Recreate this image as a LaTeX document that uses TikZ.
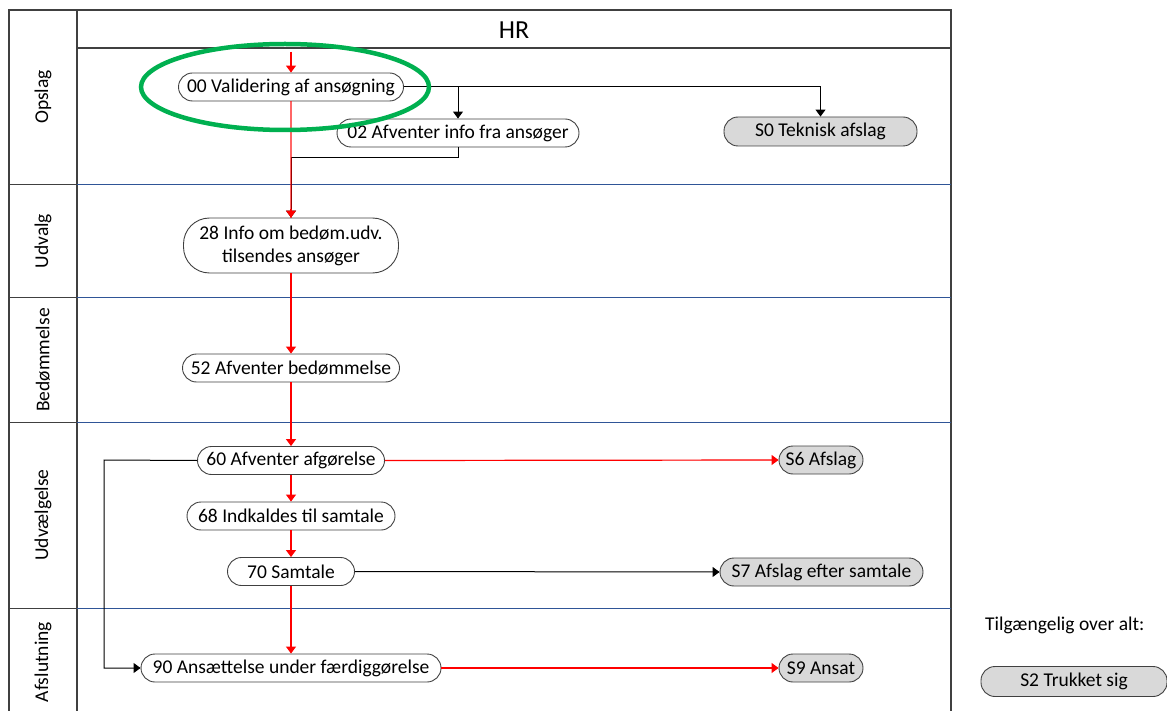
\documentclass[tikz,border=0pt]{standalone}
\usepackage{fontspec}
\setmainfont{Carlito}
\usetikzlibrary{arrows.meta}
\definecolor{frame}{HTML}{404040}
\definecolor{lanesep}{HTML}{2F5597}
\definecolor{statefill}{HTML}{D9D9D9}
\definecolor{hl}{HTML}{00B050}
\definecolor{flowred}{HTML}{FF0000}
\tikzset{
  x=1pt, y=-1pt,
  framel/.style={draw=frame, line width=1.5pt},
  sepl/.style={draw=lanesep, line width=1pt},
  lanelabel/.style={rotate=90, font=\fontsize{19.5}{23}\selectfont, inner sep=0pt},
  stepbox/.style={draw=frame, line width=0.9pt, fill=white, rounded corners=14pt,
    minimum height=28pt, inner sep=0pt, align=center, font=\fontsize{19.5}{23}\selectfont},
  statebox/.style={stepbox, fill=statefill},
  tip/.style={-{Triangle[width=10pt,length=7pt]}},
  redflow/.style={tip, draw=flowred, fill=flowred, line width=1.2pt},
  blkflow/.style={tip, draw=black, line width=1pt},
}
\begin{document}
\begin{tikzpicture}
\useasboundingbox (0,0) rectangle (1167,711);
% frame
\draw[framel] (9,711) -- (9,10) -- (951,10) -- (951,711);
\draw[framel] (77,10) -- (77,711);
\draw[framel] (77,48) -- (951,48);
\node[font=\fontsize{26}{30}\selectfont] (hr) at (514,30) {HR};
% lane separators
\foreach \yy in {185,298,422,608} {
  \draw[framel, line width=1pt] (9,\yy) -- (77,\yy);
  \draw[sepl] (77,\yy) -- (951,\yy);
}
\node[lanelabel] (l1) at (43,97) {Opslag};
\node[lanelabel] (l2) at (43,241) {Udvalg};
\node[lanelabel] (l3) at (43,360) {Bedømmelse};
\node[lanelabel] (l4) at (43,515) {Udvælgelse};
\node[lanelabel] (l5) at (43,662) {Afslutning};
% nodes
\node[stepbox, minimum width=225pt] (v00) at (291,87) {00 Validering af ansøgning};
\node[stepbox, minimum width=242pt] (a02) at (458,133) {02 Afventer info fra ansøger};
\node[statebox, minimum width=193pt, minimum height=29pt] (s0) at (820.5,131.5) {S0 Teknisk afslag};
\node[stepbox, minimum width=215pt, minimum height=55pt, rounded corners=26pt] (i28) at (291,245.5) {28 Info om bedøm.udv.\\tilsendes ansøger};
\node[stepbox, minimum width=217pt] (a52) at (291,368) {52 Afventer bedømmelse};
\node[stepbox, minimum width=187pt] (a60) at (291,460.5) {60 Afventer afgørelse};
\node[stepbox, minimum width=208pt] (i68) at (291,516) {68 Indkaldes til samtale};
\node[stepbox, minimum width=127pt] (s70) at (291,571.5) {70 Samtale};
\node[stepbox, minimum width=300pt] (a90) at (291,668) {90 Ansættelse under færdiggørelse};
\node[statebox, minimum width=84pt] (s6) at (821,460) {S6 Afslag};
\node[statebox, minimum width=203pt] (s7) at (821.5,572) {S7 Afslag efter samtale};
\node[statebox, minimum width=84pt] (s9) at (821,668) {S9 Ansat};
\node[font=\fontsize{19.5}{23}\selectfont, anchor=west, inner sep=0pt] (tg) at (985,625) {Tilgængelig over alt:};
\node[statebox, minimum width=186pt, minimum height=30pt] (s2) at (1074,681.5) {S2 Trukket sig};
% connectors
\coordinate (start) at (291,52);
\draw[redflow] (start) -- (v00.north);
\draw[blkflow] (v00.east) -| (s0.north);
\draw[blkflow] (v00.east -| a02.north) -- (a02.north);
\draw[blkflow] (a02.south) -- ++(0,10) -| (i28.north);
\draw[draw=flowred, line width=1.2pt, draw opacity=0.6] (v00.south) -- (i28.north);
\draw[redflow] ([yshift=9pt]i28.north) -- (i28.north);
\draw[redflow] (i28.south) -- (a52.north);
\draw[redflow] (a52.south) -- (a60.north);
\draw[redflow] (a60.south) -- (i68.north);
\draw[redflow] (i68.south) -- (s70.north);
\draw[redflow] (s70.south) -- (a90.north);
\draw[redflow] (a60.east) -- (s6.west);
\draw[blkflow] (s70.east) -- (s7.west);
\draw[redflow] (a90.east) -- (s9.west);
\coordinate (loopx) at (104,460);
\draw[blkflow] (a60.west) -- (loopx) |- (a90.west);
% highlight
\draw[hl, line width=4.5pt] (285,87) ellipse [x radius=144pt, y radius=43pt];
\end{tikzpicture}
\end{document}
